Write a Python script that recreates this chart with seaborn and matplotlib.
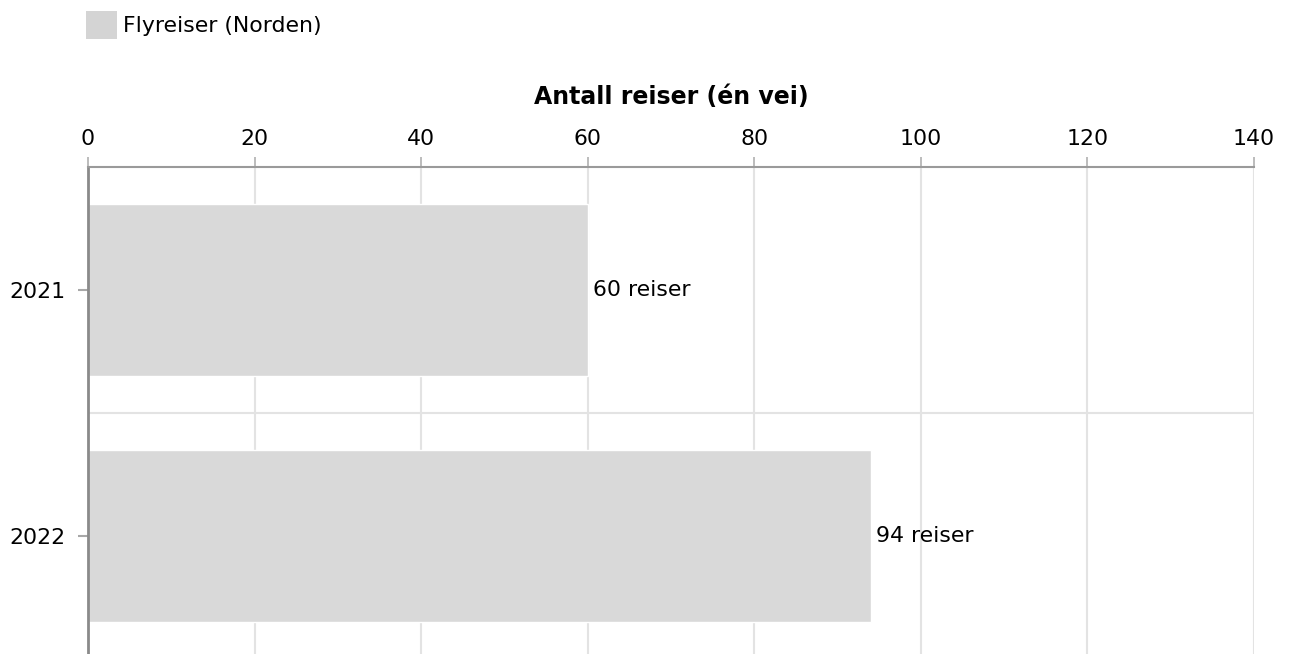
import pandas as pd
import matplotlib.pyplot as plt
import matplotlib.ticker as mticker
from matplotlib.patches import Patch
import seaborn as sns

# Chart data
years = ['2021', '2022']
trips = [60, 94]
series_name = 'Flyreiser (Norden)'
x_ticks = [0, 20, 40, 60, 80, 100, 120, 140]

data = pd.DataFrame({'År': years, 'Reiser': trips})

sns.set_theme(style="white")
plt.rcParams['font.family'] = ['DejaVu Sans']
plt.rcParams['text.color'] = 'black'
plt.rcParams['axes.labelcolor'] = 'black'

bar_color = '#d9d9d9'
axis_color = '#8a8a8a'
grid_color = '#e3e3e3'

fig = plt.figure(figsize=(12.9, 6.54), dpi=100)
# axes placed to match the reference pixel layout
ax = fig.add_axes([88 / 1290, -5 / 654, (1254 - 88) / 1290, 492 / 654])

sns.barplot(data=data, x='Reiser', y='År', orient='h', color=bar_color,
            width=0.7, saturation=1, ax=ax)

ax.set_xlim(0, 140)
ax.set_ylim(1.5, -0.5)
ax.xaxis.set_major_locator(mticker.FixedLocator(x_ticks))
ax.xaxis.tick_top()
ax.xaxis.set_label_position('top')
ax.set_xlabel('Antall reiser (én vei)', fontsize=17, fontweight='bold',
              labelpad=18, color='black')
ax.set_ylabel('')

# grid: vertical at ticks, horizontal separator between categories
ax.yaxis.set_minor_locator(mticker.FixedLocator([0.5]))
ax.grid(True, axis='x', color=grid_color, linewidth=1.5)
ax.grid(True, axis='y', which='minor', color=grid_color, linewidth=1.5)
ax.set_axisbelow(True)

for side in ['right', 'bottom']:
    ax.spines[side].set_visible(False)
ax.spines['top'].set_color('#9a9a9a')
ax.spines['top'].set_linewidth(1.5)
ax.spines['left'].set_color(axis_color)
ax.spines['left'].set_linewidth(2)

ax.tick_params(axis='x', which='major', top=True, bottom=False, length=7,
               width=1.2, color='#b0b0b0', pad=6, labelsize=15.8,
               labelcolor='black')
ax.tick_params(axis='y', which='major', left=True, length=7, width=1.5,
               color='#a8a8a8', pad=9, labelsize=15.8, labelcolor='black')
ax.tick_params(axis='y', which='minor', left=False)

for container in ax.containers:
    ax.bar_label(container, fmt='{:.0f} reiser', padding=4, fontsize=15.8,
                 color='black')

handle = Patch(facecolor='#d4d4d4', edgecolor='none', label=series_name)
fig.legend(handles=[handle], loc='upper left',
           bbox_to_anchor=(77 / 1290, 1 - 2 / 654), frameon=False,
           fontsize=15.8, handlelength=1.4, handleheight=1.6,
           handletextpad=0.3, borderaxespad=0, labelcolor='black')

plt.savefig('out.png', dpi=100)
plt.close()
